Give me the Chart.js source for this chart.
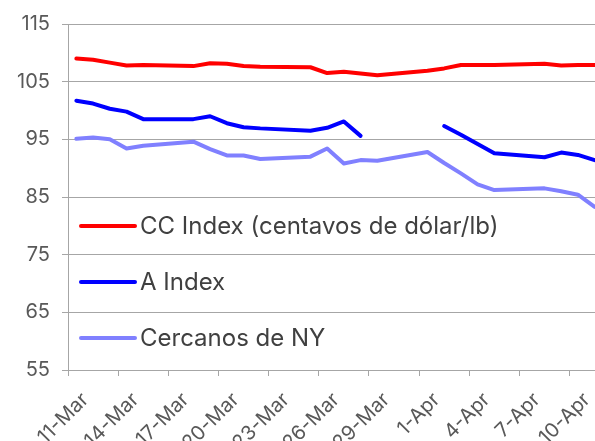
<!DOCTYPE html>
<html>
<head>
<meta charset="utf-8">
<script src="https://cdn.jsdelivr.net/npm/chart.js@4.4.1/dist/chart.umd.min.js"></script>
<style>
  html, body { margin: 0; padding: 0; background: #fff; overflow: hidden; }
  #wrap { width: 603px; height: 441px; }
</style>
</head>
<body>
<div id="wrap"><canvas id="chart"></canvas></div>
<script>
// dias corridos; fins de semana ficam null e a linha passa por cima
var days = [
  "11-Mar", "12-Mar", "13-Mar", "14-Mar", "15-Mar", "16-Mar", "17-Mar", "18-Mar",
  "19-Mar", "20-Mar", "21-Mar", "22-Mar", "23-Mar", "24-Mar", "25-Mar", "26-Mar",
  "27-Mar", "28-Mar", "29-Mar", "30-Mar", "31-Mar", "1-Apr", "2-Apr", "3-Apr",
  "4-Apr", "5-Apr", "6-Apr", "7-Apr", "8-Apr", "9-Apr", "10-Apr", "11-Apr"
];

var ccIndex = [
  109.0, 108.8, 108.3, 107.8, 107.9, null, null, 107.7,
  108.2, 108.1, 107.7, 107.6, null, null, 107.5, 106.5,
  106.7, 106.4, 106.1, null, null, 106.9, 107.3, 107.9,
  107.9, 107.9, null, null, 108.1, 107.8, 107.9, 107.9
];

var aIndex = [
  101.7, 101.2, 100.3, 99.8, 98.5, null, null, 98.5,
  99.0, 97.8, 97.1, 96.9, null, null, 96.5, 97.0,
  98.1, 95.6, null, null, null, null, 97.3, 95.8,
  94.2, 92.6, null, null, 91.9, 92.7, 92.3, 91.4
];

var nyNearby = [
  95.1, 95.3, 95.0, 93.4, 93.9, null, null, 94.6,
  93.3, 92.2, 92.2, 91.6, null, null, 92.0, 93.4,
  90.8, 91.4, 91.3, null, null, 92.8, 90.9, 89.1,
  87.2, 86.2, null, null, 86.5, 86.0, 85.4, 83.3
];

var seriesNames = ["CC Index (centavos de dólar/lb)", "A Index", "Cercanos de NY"];
var yTicks = [55, 65, 75, 85, 95, 105, 115];

var textColor = "#595959";
var gridColor = "#a6a6a6";
var maxGapDays = 3; // fim de semana liga; feriado longo (Páscoa) fica em branco

// legenda desenhada dentro da área do gráfico, como no Excel
var insideLegend = {
  id: "insideLegend",
  afterDatasetsDraw: function (chart, args, opts) {
    var ctx = chart.ctx;
    ctx.save();
    chart.data.datasets.forEach(function (ds, i) {
      var y = opts.rows[i];
      ctx.strokeStyle = ds.borderColor;
      ctx.lineWidth = 4;
      ctx.lineCap = "round";
      ctx.beginPath();
      ctx.moveTo(opts.x0, y);
      ctx.lineTo(opts.x1, y);
      ctx.stroke();
      ctx.fillStyle = "#404040";
      ctx.font = "24px Inter";
      ctx.textBaseline = "middle";
      ctx.textAlign = "left";
      ctx.fillText(ds.label, opts.x1 + 5, y + 1);
    });
    ctx.restore();
  }
};

// o segmento que atravessa mais de um fim de semana fica invisível
function gapSegment(c) {
  var data = c.chart.data.datasets[c.datasetIndex].data;
  var j = c.p1DataIndex - 1;
  while (j >= 0 && data[j] == null) j--;
  return (c.p1DataIndex - j) > maxGapDays ? "rgba(0,0,0,0)" : undefined;
}

new Chart(document.getElementById("chart"), {
  type: "line",
  data: {
    labels: days,
    datasets: [
      { label: seriesNames[0], data: ccIndex, borderColor: "#ff0000" },
      { label: seriesNames[1], data: aIndex, borderColor: "#0000ff", segment: { borderColor: gapSegment } },
      { label: seriesNames[2], data: nyNearby, borderColor: "#8080ff" }
    ]
  },
  options: {
    responsive: true,
    maintainAspectRatio: false,
    animation: false,
    spanGaps: true,
    layout: { padding: { top: 22, right: 0, left: 0, bottom: 0 } },
    elements: {
      line: { borderWidth: 4, tension: 0, borderJoinStyle: "round", borderCapStyle: "round", fill: false },
      point: { radius: 0, hoverRadius: 0 }
    },
    plugins: {
      legend: { display: false },
      tooltip: { enabled: false },
      insideLegend: { x0: 81, x1: 135, rows: [226, 282, 338] }
    },
    scales: {
      x: {
        offset: true,
        afterFit: function (scale) {
          scale.height = 71;
          scale.paddingLeft = 0;
          scale.paddingRight = 0;
        },
        grid: {
          offset: true,
          drawOnChartArea: false,
          drawTicks: true,
          tickLength: 6,
          color: function (c) { return c.index % 3 === 0 ? gridColor : "rgba(0,0,0,0)"; }
        },
        border: { display: true, color: gridColor, width: 1 },
        ticks: {
          autoSkip: false,
          minRotation: 45,
          maxRotation: 45,
          padding: 12,
          labelOffset: 9,
          color: textColor,
          font: { family: "Inter", size: 20 },
          callback: function (v, i) { return i % 3 === 0 ? days[i] : ""; }
        }
      },
      y: {
        min: 55,
        max: 115,
        afterFit: function (scale) { scale.width = 68; },
        afterBuildTicks: function (scale) {
          scale.ticks = yTicks.map(function (v) { return { value: v }; });
        },
        grid: { color: gridColor, lineWidth: 1, drawTicks: true, tickLength: 6 },
        border: { display: true, color: gridColor, width: 1 },
        ticks: {
          padding: 12,
          color: textColor,
          font: { family: "Inter", size: 20 }
        }
      }
    }
  },
  plugins: [insideLegend]
});
</script>
</body>
</html>
